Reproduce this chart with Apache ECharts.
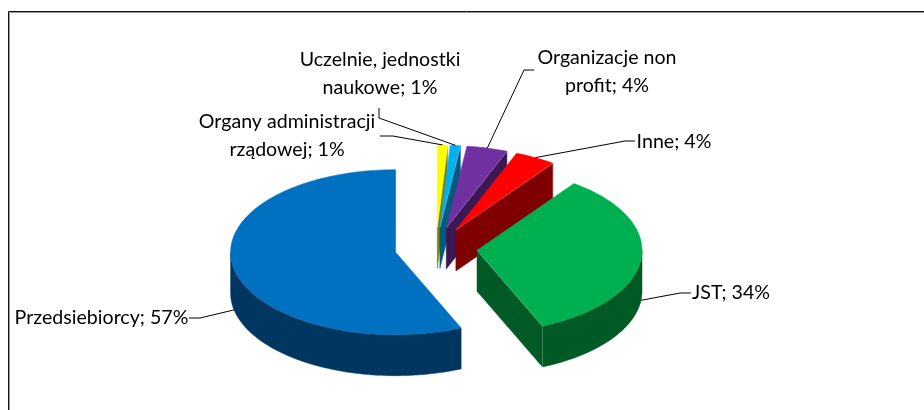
<!DOCTYPE html>
<html><head><meta charset="utf-8">
<style>html,body{margin:0;padding:0;background:#fff}#c{width:924px;height:410px}</style>
<script src="https://cdn.jsdelivr.net/npm/echarts@6/dist/echarts.min.js"></script>
</head><body><div id="c"></div>
<script>
const categories = ['Przedsiebiorcy','Organy administracji\nrządowej','Uczelnie, jednostki\nnaukowe','Organizacje non\nprofit','Inne','JST'];
const values = [56.5,1,1,4,4,33.5];
const topColors = ['#0070C0','#FFFF00','#00B0F0','#7030A0','#FF0000','#00B050'];
const sideColors = ['#00365F','#7F7F00','#005B7C','#3A1853','#7F0000','#005A26'];
// label text centre, and leader-line bend points (from label toward slice)
const labelPos = [[101.5,318],[287,136],[380,74],[607,72],[674,142],[731,293]];
const leaderBends = [
  [[189,318],[200,318]],
  [[380,136],[393,136]],
  [[379,108],[379,118]],
  [[534,70],[524,70]],
  [[635,141],[625,141]],
  [[691,293],[680,293]]
];
const firstSliceAngle = 156.6, explode = 0.25;
const cx = 436, cy = 248, rx = 165, ry = 82.5, depth = 41;

const total = values.reduce((a,b)=>a+b,0);
const dir = a => [Math.sin(a*Math.PI/180), -Math.cos(a*Math.PI/180)];
function renderItem(params, api){
  const i = api.value(0);
  let a0 = firstSliceAngle;
  for(let k=0;k<i;k++) a0 += values[k]/total*360;
  const a1 = a0 + values[i]/total*360, mid=(a0+a1)/2;
  const dm = dir(mid);
  const ax = cx + dm[0]*rx*explode, ay = cy + dm[1]*ry*explode;
  const pt = (a,d=0)=>{const v=dir(a);return [ax+v[0]*rx, ay+v[1]*ry+d];};
  const arc = (s,e,d)=>{const p=[];const n=Math.max(4,Math.ceil((e-s)/1.5));for(let k=0;k<=n;k++)p.push(pt(s+(e-s)*k/n,d));return p;};
  const kids = [];
  const edge = 'rgba(255,255,255,0.2)';
  const side = pts => kids.push({type:'polygon',shape:{points:pts},style:{fill:sideColors[i],stroke:sideColors[i],lineWidth:0.5}});
  // start/end radial faces facing the viewer
  if(Math.sin(a0*Math.PI/180)<-1e-6) side([[ax,ay],pt(a0),pt(a0,depth),[ax,ay+depth]]);
  if(Math.sin(a1*Math.PI/180)>1e-6) side([[ax,ay],pt(a1),pt(a1,depth),[ax,ay+depth]]);
  // visible part of outer rim: angles where the rim faces the viewer (90..270, mod 360)
  for(const base of [90,450]){
    const s=Math.max(a0,base), e=Math.min(a1,base+180);
    if(e>s) side(arc(s,e,0).concat(arc(s,e,depth).reverse()));
  }
  // top face
  kids.push({type:'polygon',shape:{points:[[ax,ay]].concat(arc(a0,a1,0))},style:{fill:topColors[i],stroke:topColors[i],lineWidth:0.5}});
  if(Math.sin(a1*Math.PI/180)>1e-6){
    kids.push({type:'polyline',shape:{points:[[ax,ay],pt(a1),pt(a1,depth)]},style:{fill:null,stroke:edge,lineWidth:1}});
  }
  // leader line anchored on the slice's rim midpoint
  const anchor = pt(mid, Math.cos(mid*Math.PI/180)<0?depth:0);
  kids.push({type:'polyline',z2:5,shape:{points:leaderBends[i].concat([anchor])},style:{fill:null,stroke:'#000',lineWidth:1}});
  // label
  const pct = Math.round(+(values[i]/total*100).toFixed(6));
  kids.push({type:'text',z2:6,style:{text:categories[i]+'; '+pct+'%',x:labelPos[i][0],y:labelPos[i][1],align:'center',verticalAlign:'middle',
    font:'19.6px Lato',lineHeight:28,fill:'#000'}});
  return {type:'group',children:kids};
}
const chart = echarts.init(document.getElementById('c'),null,{renderer:'canvas'});
chart.setOption({
  animation:false,
  backgroundColor:'#fff',
  graphic:[
    {type:'polyline',shape:{points:[[9.5,410],[9.5,12.5],[924,12.5]]},style:{fill:null,stroke:'#999',lineWidth:1}},
    {type:'polyline',shape:{points:[[8.5,410],[8.5,11.5],[924,11.5]]},style:{fill:null,stroke:'#111',lineWidth:1}}
  ],
  series:[{type:'custom',coordinateSystem:'none',silent:true,renderItem,data:values.map((v,i)=>[i,v]),clip:false}]
});
</script></body></html>
